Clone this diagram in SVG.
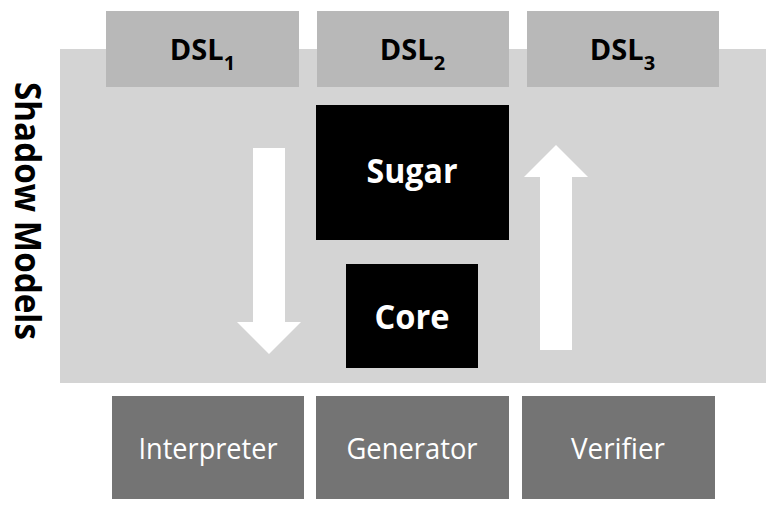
<svg xmlns="http://www.w3.org/2000/svg" width="775" height="507" viewBox="0 0 775 507">
<style>
.bold{font-family:"Open Sans","Liberation Sans",sans-serif;font-weight:bold}
.reg{font-family:"Open Sans","Liberation Sans",sans-serif;font-weight:normal}
.dsl rect{fill:#b8b8b8}
.dsl text{fill:#000;font-size:29px}
.blk rect{fill:#000}
.blk text{fill:#fff;font-size:34px}
.tool rect{fill:#747474}
.tool text{fill:#fff;font-size:29px}
.arrow{fill:#fff}
</style>
<rect width="775" height="507" fill="#fff"/>
<g id="shadow-models">
<rect x="60" y="49" width="706" height="334" fill="#d4d4d4"/>
<text class="bold" transform="translate(27,211) rotate(90)" x="0" y="12" text-anchor="middle" font-size="35" fill="#000" textLength="258" lengthAdjust="spacingAndGlyphs">Shadow Models</text>
</g>
<g id="dsl1" class="dsl">
<rect x="106" y="11" width="193" height="76"/>
<text class="bold" x="202.5" y="60" text-anchor="middle">DSL<tspan dy="10" font-size="20">1</tspan></text>
</g>
<g id="dsl2" class="dsl">
<rect x="317" y="11" width="192" height="76"/>
<text class="bold" x="412.5" y="60" text-anchor="middle">DSL<tspan dy="10" font-size="20">2</tspan></text>
</g>
<g id="dsl3" class="dsl">
<rect x="527" y="11" width="192" height="76"/>
<text class="bold" x="622.5" y="60" text-anchor="middle">DSL<tspan dy="10" font-size="20">3</tspan></text>
</g>
<g id="sugar" class="blk">
<rect x="316" y="105" width="193" height="135"/>
<text class="bold" x="412" y="183" text-anchor="middle" textLength="91" lengthAdjust="spacingAndGlyphs">Sugar</text>
</g>
<g id="core" class="blk">
<rect x="346" y="264" width="132" height="104"/>
<text class="bold" x="412" y="329" text-anchor="middle" textLength="75" lengthAdjust="spacingAndGlyphs">Core</text>
</g>
<g id="interpreter" class="tool">
<rect x="112" y="396" width="192" height="103"/>
<text class="reg" x="208" y="459" text-anchor="middle" textLength="139" lengthAdjust="spacingAndGlyphs">Interpreter</text>
</g>
<g id="generator" class="tool">
<rect x="316" y="396" width="193" height="103"/>
<text class="reg" x="412" y="459" text-anchor="middle" textLength="131" lengthAdjust="spacingAndGlyphs">Generator</text>
</g>
<g id="verifier" class="tool">
<rect x="522" y="396" width="193" height="103"/>
<text class="reg" x="618" y="459" text-anchor="middle" textLength="94" lengthAdjust="spacingAndGlyphs">Verifier</text>
</g>
<g id="connectors">
<polygon class="arrow" points="253,148 285,148 285,322 301,322 269,354 237,322 253,322"/>
<polygon class="arrow" points="540,350 572,350 572,177 588,177 556,145 524,177 540,177"/>
</g>
</svg>
